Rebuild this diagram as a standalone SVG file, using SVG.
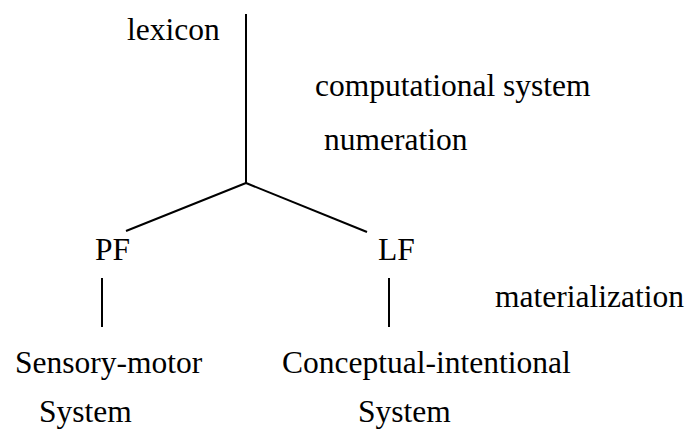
<svg xmlns="http://www.w3.org/2000/svg" width="689" height="430" viewBox="0 0 689 430">
<style>
text{font-family:"Liberation Serif","Times New Roman",serif;font-size:31.5px;fill:#000}
.ln{stroke:#000;stroke-width:2;fill:none}
</style>
<rect width="689" height="430" fill="#fff"/>
<g id="connectors">
<line class="ln" x1="246" y1="14" x2="246" y2="183"/>
<line class="ln" x1="246" y1="183" x2="126" y2="231"/>
<line class="ln" x1="246" y1="183" x2="367" y2="232"/>
<line class="ln" x1="102" y1="278" x2="102" y2="327"/>
<line class="ln" x1="389" y1="278" x2="389" y2="327"/>
</g>
<g id="lexicon"><text x="127" y="40">lexicon</text></g>
<g id="computational"><text x="315" y="96">computational system</text></g>
<g id="numeration"><text x="324" y="150">numeration</text></g>
<g id="PF"><text x="95" y="260">PF</text></g>
<g id="LF"><text x="378" y="260">LF</text></g>
<g id="materialization"><text x="495" y="307">materialization</text></g>
<g id="sensory"><text x="15" y="373">Sensory-motor</text><text x="39" y="422">System</text></g>
<g id="conceptual"><text x="282" y="373">Conceptual-intentional</text><text x="358" y="422">System</text></g>
</svg>
